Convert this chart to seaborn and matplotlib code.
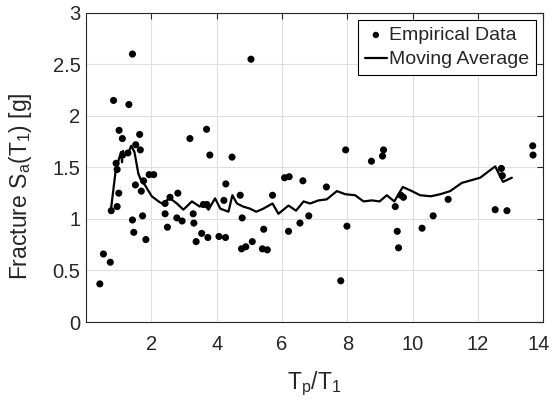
import numpy as np
import pandas as pd
import matplotlib
matplotlib.use("Agg")
import matplotlib.pyplot as plt
import matplotlib.transforms as mtransforms
import seaborn as sns

# --- empirical data ---
tp_t1 = [0.42, 0.53, 0.74, 0.77, 0.84, 0.92, 0.95, 0.95, 1.00, 1.01,
         1.11, 1.28, 1.31, 1.42, 1.42, 1.46, 1.51, 1.52, 1.64, 1.66,
         1.69, 1.73, 1.76, 1.83, 1.93, 2.07, 2.42, 2.42, 2.49, 2.57,
         2.78, 2.81, 2.94, 3.18, 3.28, 3.30, 3.37, 3.54, 3.59, 3.69,
         3.70, 3.73, 3.79, 4.07, 4.22, 4.27, 4.28, 4.47, 4.72, 4.76,
         4.78, 4.89, 5.05, 5.09, 5.40, 5.44, 5.55, 5.71, 6.08, 6.20,
         6.22, 6.55, 6.64, 6.82, 7.36, 7.80, 7.95, 7.99, 8.74, 9.08,
         9.11, 9.47, 9.53, 9.57, 9.64, 9.72, 10.29, 10.63, 11.09, 12.53,
         12.72, 12.75, 12.89, 13.68, 13.69]
sa_frac = [0.37, 0.66, 0.58, 1.08, 2.15, 1.54, 1.48, 1.12, 1.25, 1.86,
           1.78, 1.64, 2.11, 2.60, 0.99, 0.87, 1.33, 1.72, 1.82, 1.67,
           1.27, 1.03, 1.37, 0.80, 1.43, 1.43, 1.05, 1.15, 0.92, 1.21,
           1.01, 1.25, 0.98, 1.78, 1.05, 0.96, 0.78, 0.86, 1.14, 1.87,
           1.14, 0.82, 1.62, 0.83, 1.18, 0.82, 1.34, 1.60, 1.23, 0.71,
           1.01, 0.73, 2.55, 0.78, 0.71, 0.90, 0.70, 1.23, 1.40, 0.88,
           1.41, 0.96, 1.37, 1.03, 1.31, 0.40, 1.67, 0.93, 1.56, 1.61,
           1.67, 1.12, 0.88, 0.72, 1.23, 1.21, 0.91, 1.03, 1.19, 1.09,
           1.49, 1.42, 1.08, 1.71, 1.62]

# --- moving average ---
ma_x = [0.76, 0.91, 1.07, 1.10, 1.13, 1.17, 1.22, 1.28, 1.33, 1.38,
        1.48, 1.60, 1.70, 1.80, 2.01, 2.22, 2.32, 2.57, 2.78, 2.98,
        3.24, 3.48, 3.58, 3.75, 3.95, 4.11, 4.36, 4.48, 4.62, 4.81,
        5.02, 5.21, 5.43, 5.71, 5.89, 6.20, 6.43, 6.66, 6.86, 7.12,
        7.37, 7.68, 7.94, 8.24, 8.50, 8.75, 8.99, 9.21, 9.44, 9.70,
        9.98, 10.23, 10.56, 10.85, 11.15, 11.51, 12.07, 12.53, 12.77, 13.04]
ma_y = [1.09, 1.48, 1.65, 1.55, 1.66, 1.60, 1.64, 1.63, 1.67, 1.71,
        1.65, 1.44, 1.36, 1.33, 1.22, 1.17, 1.15, 1.20, 1.15, 1.09,
        1.17, 1.12, 1.15, 1.09, 1.20, 1.10, 1.07, 1.23, 1.15, 1.12,
        1.10, 1.07, 1.10, 1.15, 1.05, 1.13, 1.08, 1.17, 1.15, 1.18,
        1.19, 1.27, 1.24, 1.23, 1.17, 1.18, 1.17, 1.23, 1.17, 1.31,
        1.27, 1.23, 1.22, 1.24, 1.27, 1.35, 1.40, 1.51, 1.36, 1.40]

pts = pd.DataFrame({"x": tp_t1, "y": sa_frac})
ma = pd.DataFrame({"x": ma_x, "y": ma_y})

sns.set_style("white")
plt.rcParams['font.family'] = ['Liberation Sans', 'DejaVu Sans']
plt.rcParams['mathtext.fontset'] = 'custom'
plt.rcParams['mathtext.rm'] = 'Liberation Sans'
plt.rcParams['mathtext.it'] = 'Liberation Sans'

fig = plt.figure(figsize=(5.52, 4.01), dpi=100)
ax = fig.add_axes([0.156, 0.197, 0.828, 0.771])

sns.scatterplot(data=pts, x="x", y="y", ax=ax, color="black", s=26,
                edgecolor="none", label="Empirical Data", zorder=3)
sns.lineplot(data=ma, x="x", y="y", ax=ax, color="black", linewidth=1.6,
             sort=False, estimator=None, label="Moving Average", zorder=4)

ax.set_xlim(0, 14)
ax.set_ylim(0, 3)
ax.set_xticks(np.arange(2, 15, 2))
ax.set_yticks(np.arange(0, 3.01, 0.5))
ax.set_yticklabels(["0", "0.5", "1", "1.5", "2", "2.5", "3"])
ax.grid(True, color="#dedede", linewidth=0.8)
ax.set_axisbelow(True)

edge = "#262626"
for sp in ax.spines.values():
    sp.set_visible(True)
    sp.set_color(edge)
    sp.set_linewidth(0.8)
ax.tick_params(direction="in", length=4, width=0.8, colors=edge,
               top=True, right=True, labelsize=14.5)
ax.tick_params(axis="x", pad=9)
ax.tick_params(axis="y", pad=4)
for lab in ax.get_xticklabels() + ax.get_yticklabels():
    lab.set_color(edge)

# keep the last x tick label inside the figure
last = ax.get_xticklabels()[-1]
last.set_transform(last.get_transform() +
                   mtransforms.ScaledTranslation(-3 / 72, 0, fig.dpi_scale_trans))

ax.set_xlabel(r"T$_\mathregular{p}$/T$_\mathregular{1}$", fontsize=16.5,
              color=edge)
ax.xaxis.set_label_coords(0.5, -0.155)
ax.set_ylabel(r"Fracture S$_\mathregular{a}$(T$_\mathregular{1}$) [g]",
              fontsize=16.5, color=edge)
ax.yaxis.set_label_coords(-0.115, 0.44)

leg = ax.legend(loc="upper right", fontsize=14, frameon=True, fancybox=False,
                framealpha=1, edgecolor="black", handlelength=1.1,
                handletextpad=0.15, borderpad=0.35, labelspacing=0.35,
                borderaxespad=0.35, markerscale=0.9)
leg.get_frame().set_linewidth(0.8)

fig.savefig("out.png", dpi=100)
